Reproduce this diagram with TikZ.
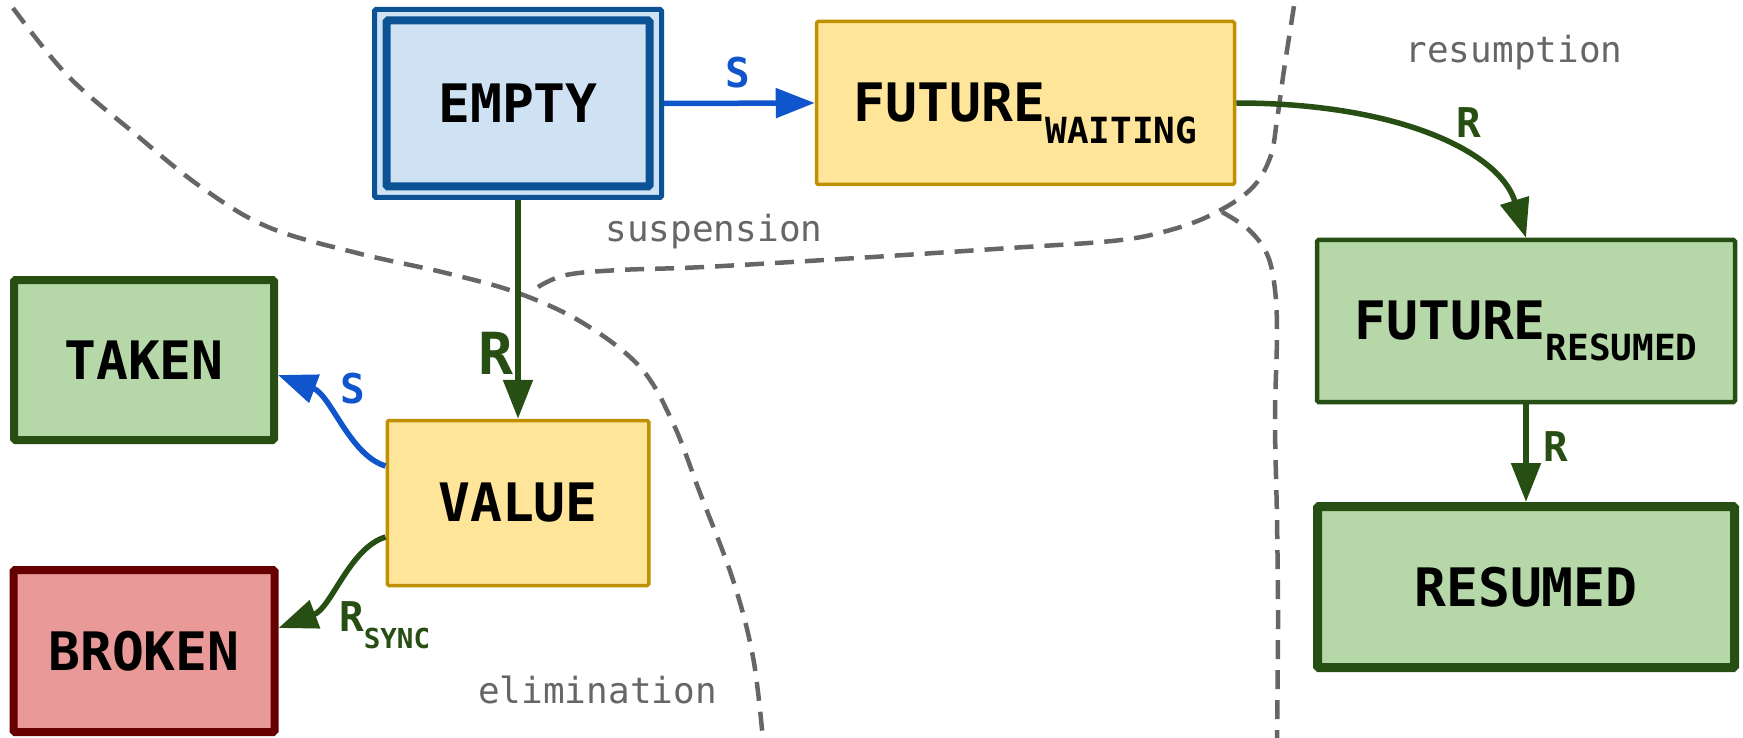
\documentclass[tikz,border=0pt]{standalone}
\usepackage{fontspec}
\newfontfamily\dmono{DejaVu Sans Mono}
\usetikzlibrary{arrows.meta}
\definecolor{bluefill}{HTML}{CFE2F3}
\definecolor{bluedraw}{HTML}{0B5394}
\definecolor{yfill}{HTML}{FFE599}
\definecolor{ydraw}{HTML}{BF9000}
\definecolor{gfill}{HTML}{B6D7A8}
\definecolor{gdraw}{HTML}{274E13}
\definecolor{rfill}{HTML}{EA9999}
\definecolor{rdraw}{HTML}{660000}
\definecolor{sblue}{HTML}{1155CC}
\definecolor{dgray}{HTML}{666666}
\newcommand\bigfnt{\dmono\bfseries\fontsize{53}{60}\selectfont}
\newcommand\subfnt{\dmono\bfseries\fontsize{36}{40}\selectfont}
\newcommand\labfnt{\dmono\bfseries\fontsize{41}{48}\selectfont}
\newcommand\sublabfnt{\dmono\bfseries\fontsize{27.5}{32}\selectfont}
\newcommand\grayfnt{\dmono\fontsize{36}{40}\selectfont}
\tikzset{
  state/.style={rectangle, inner sep=0pt, font=\bigfnt, text=black, rounded corners=1.5pt},
  yel/.style={state, fill=yfill, draw=ydraw, line width=3.5pt},
  grn/.style={state, fill=gfill, draw=gdraw},
  conn/.style={line width=5.5pt, -{Triangle[length=39pt,width=29pt]}},
  lab/.style={font=\labfnt, inner sep=0pt},
  region/.style={draw=dgray, line width=4.5pt, dash pattern=on 19pt off 11pt},
  gtext/.style={text=dgray, font=\grayfnt, anchor=base, inner sep=0pt}
}
\begin{document}
\begin{tikzpicture}[x=1pt,y=-1pt]
\useasboundingbox (0,0) rectangle (1743,738);
% region boundaries
\draw[region] plot[smooth, tension=0.6] coordinates {(13,8) (67,75) (134,133) (201,187) (268,227) (357,253) (446,273) (518,293) (583,323) (640,367) (673,423) (700,493) (733,580) (753,657) (763,740)};
\draw[region] plot[smooth, tension=0.6] coordinates {(538,287) (566,275) (620,270) (704,267) (857,258) (1010,248) (1112,241) (1163,232) (1209,216) (1250,190) (1270,158) (1277,120) (1284,70) (1294,6)};
\draw[region] plot[smooth, tension=0.6] coordinates {(1222,212) (1248,229) (1266,252) (1274,282) (1277,330) (1275,420) (1277,520) (1278,620) (1277,740)};
% gray labels
\node[gtext] (lsusp) at (714,242) {suspension};
\node[gtext] (lresum) at (1514,63) {resumption};
\node[gtext] (lelim) at (597.5,703) {elimination};
% states
\node[state, fill=bluefill, draw=bluedraw, line width=5pt, minimum width=287pt, minimum height=188pt] (empty) at (518,103.5) {};
\node[state, fill=bluefill, draw=bluedraw, line width=8pt, minimum width=263pt, minimum height=166pt] (emptyin) at (518,103.5) {EMPTY};
\node[yel, minimum width=418pt, minimum height=163pt] (fw) at (1025.5,103) {FUTURE\smash{\raisebox{-22pt}{\subfnt WAITING}}};
\node[grn, line width=8pt, minimum width=260pt, minimum height=160pt] (taken) at (144,360) {TAKEN};
\node[yel, minimum width=261.5pt, minimum height=165pt] (value) at (518,503) {VALUE};
\node[state, fill=rfill, draw=rdraw, line width=8pt, minimum width=261pt, minimum height=162pt] (broken) at (144,651) {BROKEN};
\node[grn, line width=4.5pt, minimum width=418pt, minimum height=162pt] (fr) at (1526,321) {FUTURE\smash{\raisebox{-21pt}{\subfnt RESUMED}}};
\node[grn, line width=9pt, minimum width=417pt, minimum height=161pt] (res) at (1526,587) {RESUMED};
% connectors
\draw[conn, sblue] (empty.east) -- (fw.west);
\draw[conn, gdraw] (empty.south) -- (value.north);
\draw[conn, sblue] ([yshift=37pt]value.west) .. controls +(-36,-11) and +(53,20) .. ([yshift=-15pt]taken.east);
\draw[conn, gdraw] ([yshift=-34pt]value.west) .. controls +(-36,11) and +(53,-20) .. ([yshift=23pt]broken.east);
\draw[conn, gdraw] (fw.east) .. controls +(164,0) and +(-26,-85) .. (fr.north);
\draw[conn, gdraw] (fr.south) -- (res.north);
% connector labels
\node[lab, text=sblue] (ls1) at (737.5,73) {S};
\node[lab, text=gdraw, font=\dmono\bfseries\fontsize{58}{64}\selectfont] (lr1) at (496,353) {R};
\node[lab, text=sblue] (ls2) at (353,389) {S};
\node[lab, text=gdraw, anchor=base west] (lr2) at (339,631) {R\raisebox{-17pt}{\sublabfnt SYNC}};
\node[lab, text=gdraw] (lr3) at (1469,123) {R};
\node[lab, text=gdraw] (lr4) at (1556,447) {R};
\end{tikzpicture}
\end{document}
